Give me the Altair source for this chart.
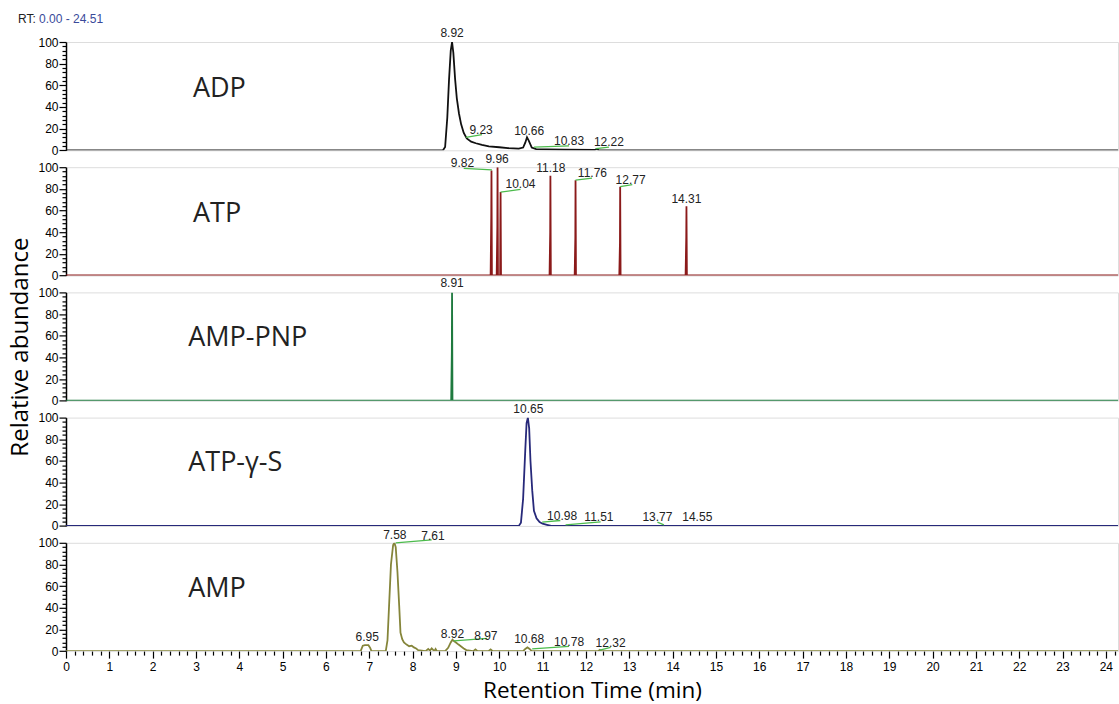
import altair as alt
import pandas as pd

# ---------------- data ----------------
X_MAX = 24.28

adp_t = [0, 8.70, 8.75, 8.80, 8.84, 8.88, 8.91, 8.94, 8.98, 9.02, 9.07, 9.12, 9.18, 9.25, 9.35, 9.46,
         9.60, 9.76, 10.0, 10.2, 10.45, 10.55, 10.60, 10.64, 10.68, 10.75, 10.85, 11.1, 11.5, 12.2,
         12.25, 12.3, 24.51]
adp_v = [0, 0, 3, 30, 65, 92, 100, 90, 66, 48, 34, 24, 16, 11, 8, 6.5,
         5, 3.7, 2.8, 2, 1.5, 2.5, 7, 12, 9, 2.5, 1, 0.8, 0.5, 0.3,
         1.2, 0, 0]

atp_t = [0, 9.80, 9.815, 9.82, 9.83, 9.94, 9.955, 9.96, 9.97, 10.02, 10.025, 10.03, 10.04,
         11.16, 11.175, 11.18, 11.19, 11.74, 11.755, 11.76, 11.77, 12.77, 12.785, 12.79, 12.80,
         14.30, 14.315, 14.32, 14.33, 24.51]
atp_v = [0, 0, 55, 97, 0, 0, 45, 100, 0, 0, 50, 77, 0,
         0, 40, 92, 0, 0, 35, 88, 0, 0, 30, 82, 0,
         0, 35, 64, 0, 0]

amppnp_t = [0, 8.89, 8.905, 8.91, 8.92, 24.51]
amppnp_v = [0, 0, 45, 100, 0, 0]

atpgs_t = [0, 10.45, 10.50, 10.55, 10.60, 10.63, 10.66, 10.69, 10.72, 10.76, 10.80, 10.86, 10.93,
           11.0, 11.1, 11.2, 24.51]
atpgs_v = [0, 0, 3, 25, 70, 95, 100, 90, 60, 33, 14, 7, 3.5,
           2, 1, 0, 0]

amp_t = [0, 6.80, 6.85, 6.90, 6.98, 7.02, 7.05, 7.38, 7.42, 7.46, 7.50, 7.55, 7.58, 7.61, 7.65,
         7.69, 7.72, 7.76, 7.80, 7.86, 7.92, 7.98, 8.03, 8.08, 8.12, 8.30, 8.36, 8.40, 8.44, 8.50,
         8.53, 8.56, 8.75, 8.82, 8.88, 8.92, 8.96, 9.00, 9.06, 9.12, 9.18, 9.24, 9.40, 9.45, 9.50,
         9.75, 9.80, 9.85, 10.55, 10.60, 10.65, 10.70, 10.75, 12.28, 12.32, 12.36, 24.51]
amp_v = [0, 0, 5, 5.5, 5.5, 3, 0, 0, 10, 45, 80, 98, 100, 96, 73,
         42, 17, 11, 8, 6, 4.5, 5, 3.4, 2.5, 1, 0, 2, 0.5, 2.5, 0,
         2, 0, 0, 3, 8, 10.5, 9, 8, 6, 4.3, 2.5, 1, 0, 1.5, 0,
         0, 1.5, 0, 0, 2, 3.5, 2, 0, 0, 1.2, 0, 0]

# annotation segments: t1, v1, t2, v2
adp_seg = [(9.23, 12, 9.60, 14.5), (10.80, 3, 11.61, 4), (12.23, 1.5, 12.53, 3)]
atp_seg = [(9.18, 99, 9.83, 97.5), (10.03, 77, 10.49, 79.5), (11.76, 88, 12.14, 90), (12.79, 82, 13.07, 84)]
amppnp_seg = []
atpgs_seg = [(10.99, 3.4, 11.41, 5), (11.53, 1, 12.34, 3.7), (13.65, 3.4, 13.80, 1)]
amp_seg = [(7.61, 100, 8.44, 102.7), (8.95, 9.5, 9.72, 11.7), (10.76, 2, 11.61, 4.3), (12.32, 1, 12.57, 3.4)]

# peak labels: text, t, v
adp_lab = [("8.92", 8.91, 108.3), ("9.23", 9.58, 18.5), ("10.66", 10.69, 17.6),
           ("10.83", 11.61, 8.3), ("12.22", 12.53, 7.4)]
atp_lab = [("9.82", 9.15, 103.7), ("9.96", 9.95, 107.4), ("10.04", 10.49, 84.3),
           ("11.18", 11.19, 98.8), ("11.76", 12.15, 94.4), ("12.77", 13.03, 88.2),
           ("14.31", 14.32, 71.0)]
amppnp_lab = [("8.91", 8.91, 109.0)]
atpgs_lab = [("10.65", 10.67, 107.7), ("10.98", 11.45, 9.5), ("11.51", 12.30, 8.1),
             ("13.77", 13.65, 8.1), ("14.55", 14.57, 8.1)]
amp_lab = [("7.58", 7.59, 107.4), ("7.61", 8.47, 106.5), ("6.95", 6.95, 12.7),
           ("8.92", 8.92, 15.7), ("8.97", 9.69, 14.2), ("10.68", 10.69, 11.1),
           ("10.78", 11.61, 8.1), ("12.32", 12.57, 7.4)]

names = ["ADP", "ATP", "AMP-PNP", "ATP-γ-S", "AMP"]
name_pos = [(2.93, 57), (2.93, 56.5), (2.82, 58), (2.82, 58.5), (2.82, 57)]
colors = ["#111111", "#8b1a1a", "#1f7a3f", "#27297a", "#85853a"]

y_ticks = list(range(0, 101, 4))
x_ticks = [round(i / 5, 1) for i in range(0, 122)]

# ---------------- chart ----------------
xscale = alt.Scale(domain=[0, X_MAX], nice=False, zero=False)
yscale = alt.Scale(domain=[0, 100], nice=False)


def y_axis(title=None):
    kw = dict(
        values=y_ticks, tickCount=200,
        labelExpr="datum.value % 20 === 0 ? format(datum.value, 'd') : ''",
        tickSize={"condition": {"test": "datum.value % 20 === 0", "value": 7}, "value": 4},
        tickColor="black", tickWidth=1.2, domainColor="black", domainWidth=1.5,
        labelFont="Liberation Sans", labelFontSize=12, labelColor="black",
        labelPadding=1, labelOverlap=False, labelFlush=False, grid=False,
    )
    if title:
        kw.update(title=title, titleFont="Open Sans", titleFontSize=24,
                  titleFontWeight="normal", titleColor="black", titlePadding=5)
    else:
        kw.update(title=None)
    return alt.Axis(**kw)


def x_axis():
    return alt.Axis(
        values=x_ticks, tickCount=500,
        labelExpr="datum.value % 1 === 0 ? format(datum.value, 'd') : ''",
        tickSize={"condition": {"test": "datum.value % 1 === 0", "value": 7}, "value": 4},
        tickColor="black", tickWidth=1.2, domain=False,
        labelFont="Liberation Sans", labelFontSize=12, labelColor="black",
        labelPadding=3, labelOverlap=False, labelFlush=False, grid=False,
        title="Retention Time (min)", titleFont="Open Sans", titleFontSize=22.5,
        titleFontWeight="normal", titleColor="black", titlePadding=7,
    )


def panel(i, ts, vs, segs, labs, bottom=False, ytitle=None, extra=None):
    assert len(ts) == len(vs)
    df = pd.DataFrame({"t": ts, "v": vs})
    xenc = alt.X("t:Q", scale=xscale, axis=x_axis() if bottom else None)
    line = alt.Chart(df).mark_line(color=colors[i], strokeWidth=1.8, clip=True,
                                   interpolate="linear").encode(
        x=xenc,
        y=alt.Y("v:Q", scale=yscale, axis=y_axis(ytitle)),
    )
    layers = [line]
    if segs:
        sdf = pd.DataFrame(segs, columns=["t1", "v1", "t2", "v2"])
        layers.append(alt.Chart(sdf).mark_rule(color="#4cbb4c", strokeWidth=1.3).encode(
            x=alt.X("t1:Q", scale=xscale), x2="t2:Q",
            y=alt.Y("v1:Q", scale=yscale), y2="v2:Q"))
    ldf = pd.DataFrame(labs, columns=["txt", "t", "v"])
    layers.append(alt.Chart(ldf).mark_text(font="Liberation Sans", fontSize=12,
                                           color="#222222", baseline="middle").encode(
        x=alt.X("t:Q", scale=xscale), y=alt.Y("v:Q", scale=yscale), text="txt:N"))
    ndf = pd.DataFrame({"name": [names[i]], "t": [name_pos[i][0]], "v": [name_pos[i][1]]})
    layers.append(alt.Chart(ndf).mark_text(font="Open Sans", fontSize=27, color="#222222",
                                           align="left", baseline="middle").encode(
        x=alt.X("t:Q", scale=xscale), y=alt.Y("v:Q", scale=yscale), text="name:N"))
    if extra is not None:
        layers.extend(extra)
    return alt.layer(*layers).properties(width=1052, height=108.3)


rt_df = pd.DataFrame({"a": ["RT:"], "b": ["0.00 - 24.51"]})
rt1 = alt.Chart(rt_df).mark_text(font="Liberation Sans", fontSize=12, color="#222222",
                                 align="left", baseline="middle").encode(
    x=alt.value(-48), y=alt.value(-23), text="a:N")
rt2 = alt.Chart(rt_df).mark_text(font="Liberation Sans", fontSize=12, color="#3a4a9a",
                                 align="left", baseline="middle").encode(
    x=alt.value(-27), y=alt.value(-23), text="b:N")

p1 = panel(0, adp_t, adp_v, adp_seg, adp_lab, extra=[rt1, rt2])
p2 = panel(1, atp_t, atp_v, atp_seg, atp_lab)
p3 = panel(2, amppnp_t, amppnp_v, amppnp_seg, amppnp_lab, ytitle="Relative abundance")
p4 = panel(3, atpgs_t, atpgs_v, atpgs_seg, atpgs_lab)
p5 = panel(4, amp_t, amp_v, amp_seg, amp_lab, bottom=True)

chart = alt.vconcat(p1, p2, p3, p4, p5, spacing=16.2, bounds="flush").properties(
    padding={"left": 8, "top": 12, "right": 0, "bottom": 0}
).configure_view(stroke=None).configure(background="white")

chart.save("out.html", embed_options={"renderer": "svg", "actions": False})
